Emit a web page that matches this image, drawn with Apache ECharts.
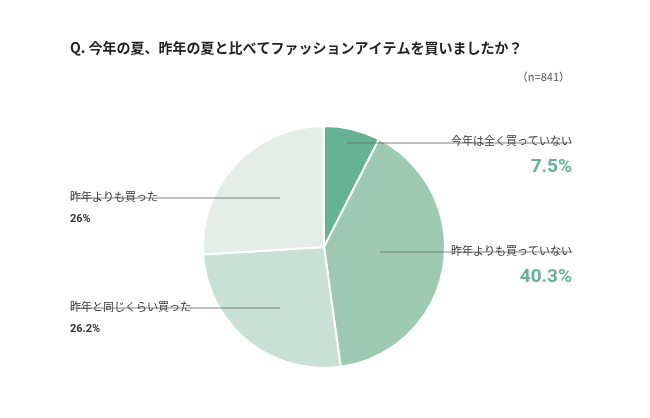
<!DOCTYPE html>
<html><head><meta charset="utf-8">
<script src="https://cdn.jsdelivr.net/npm/echarts@6/dist/echarts.min.js"></script>
<style>body{margin:0}#main{width:650px;height:418px}</style>
</head><body><div id="main"></div>
<script>
var names = ['今年は全く買っていない', '昨年よりも買っていない', '昨年と同じくらい買った', '昨年よりも買った'];
var values = [7.5, 40.3, 26.2, 26];
var colors = ['#66b294', '#9ec9b3', '#c9e0d4', '#e3eee8'];

// label anchor per slice: [x, y, align]
var spots = [[572, 128, 'right'], [572, 238, 'right'], [70, 294, 'left'], [70, 184, 'left']];
var lines = [[347, 143, 572], [380, 252, 572], [70, 308, 280], [70, 198, 280]];

var myChart = echarts.init(document.getElementById('main'));
var font = '"Noto Sans CJK JP", sans-serif';
var option = {
    backgroundColor: '#fff',
    title: [{
        text: 'Q. 今年の夏、昨年の夏と比べてファッションアイテムを買いましたか？',
        left: 65, top: 36,
        textStyle: {fontSize: 14, fontWeight: 'bold', color: '#222', fontFamily: font}
    }, {
        text: '（n=841）',
        right: 75, top: 66,
        textStyle: {fontSize: 11, fontWeight: 'normal', color: '#555', fontFamily: font}
    }],
    graphic: lines.map(function (l) {
        return {type: 'line', z: 100, shape: {x1: l[0], y1: l[1], x2: l[2], y2: l[1]},
            style: {stroke: '#666', lineWidth: 0.8}};
    }),
    series: [{
        type: 'pie',
        center: [324, 247],
        radius: 121,
        startAngle: 90,
        clockwise: true,
        animation: false,
        data: names.map(function (n, i) {
            return {name: n, value: values[i], itemStyle: {color: colors[i]}};
        }),
        itemStyle: {borderColor: '#fff', borderWidth: 2},
        labelLine: {show: false},
        label: {
            fontFamily: font,
            formatter: function (p) {
                var big = p.dataIndex < 2;
                return '{n|' + p.name + '}\n' + (big ? '{b|' : '{s|') + p.value + '%}';
            },
            rich: {
                n: {fontSize: 11, color: '#333', lineHeight: 26, fontFamily: font},
                b: {fontSize: 19, fontWeight: 'bold', color: '#66b294', lineHeight: 26, fontFamily: 'Roboto, sans-serif'},
                s: {fontSize: 11, fontWeight: 'bold', color: '#333', lineHeight: 18, fontFamily: 'Roboto, sans-serif'}
            }
        },
        labelLayout: function (p) {
            var s = spots[p.dataIndex];
            return {x: s[0], y: s[1], align: s[2], verticalAlign: 'top'};
        }
    }]
};
myChart.setOption(option, true);
</script></body></html>
